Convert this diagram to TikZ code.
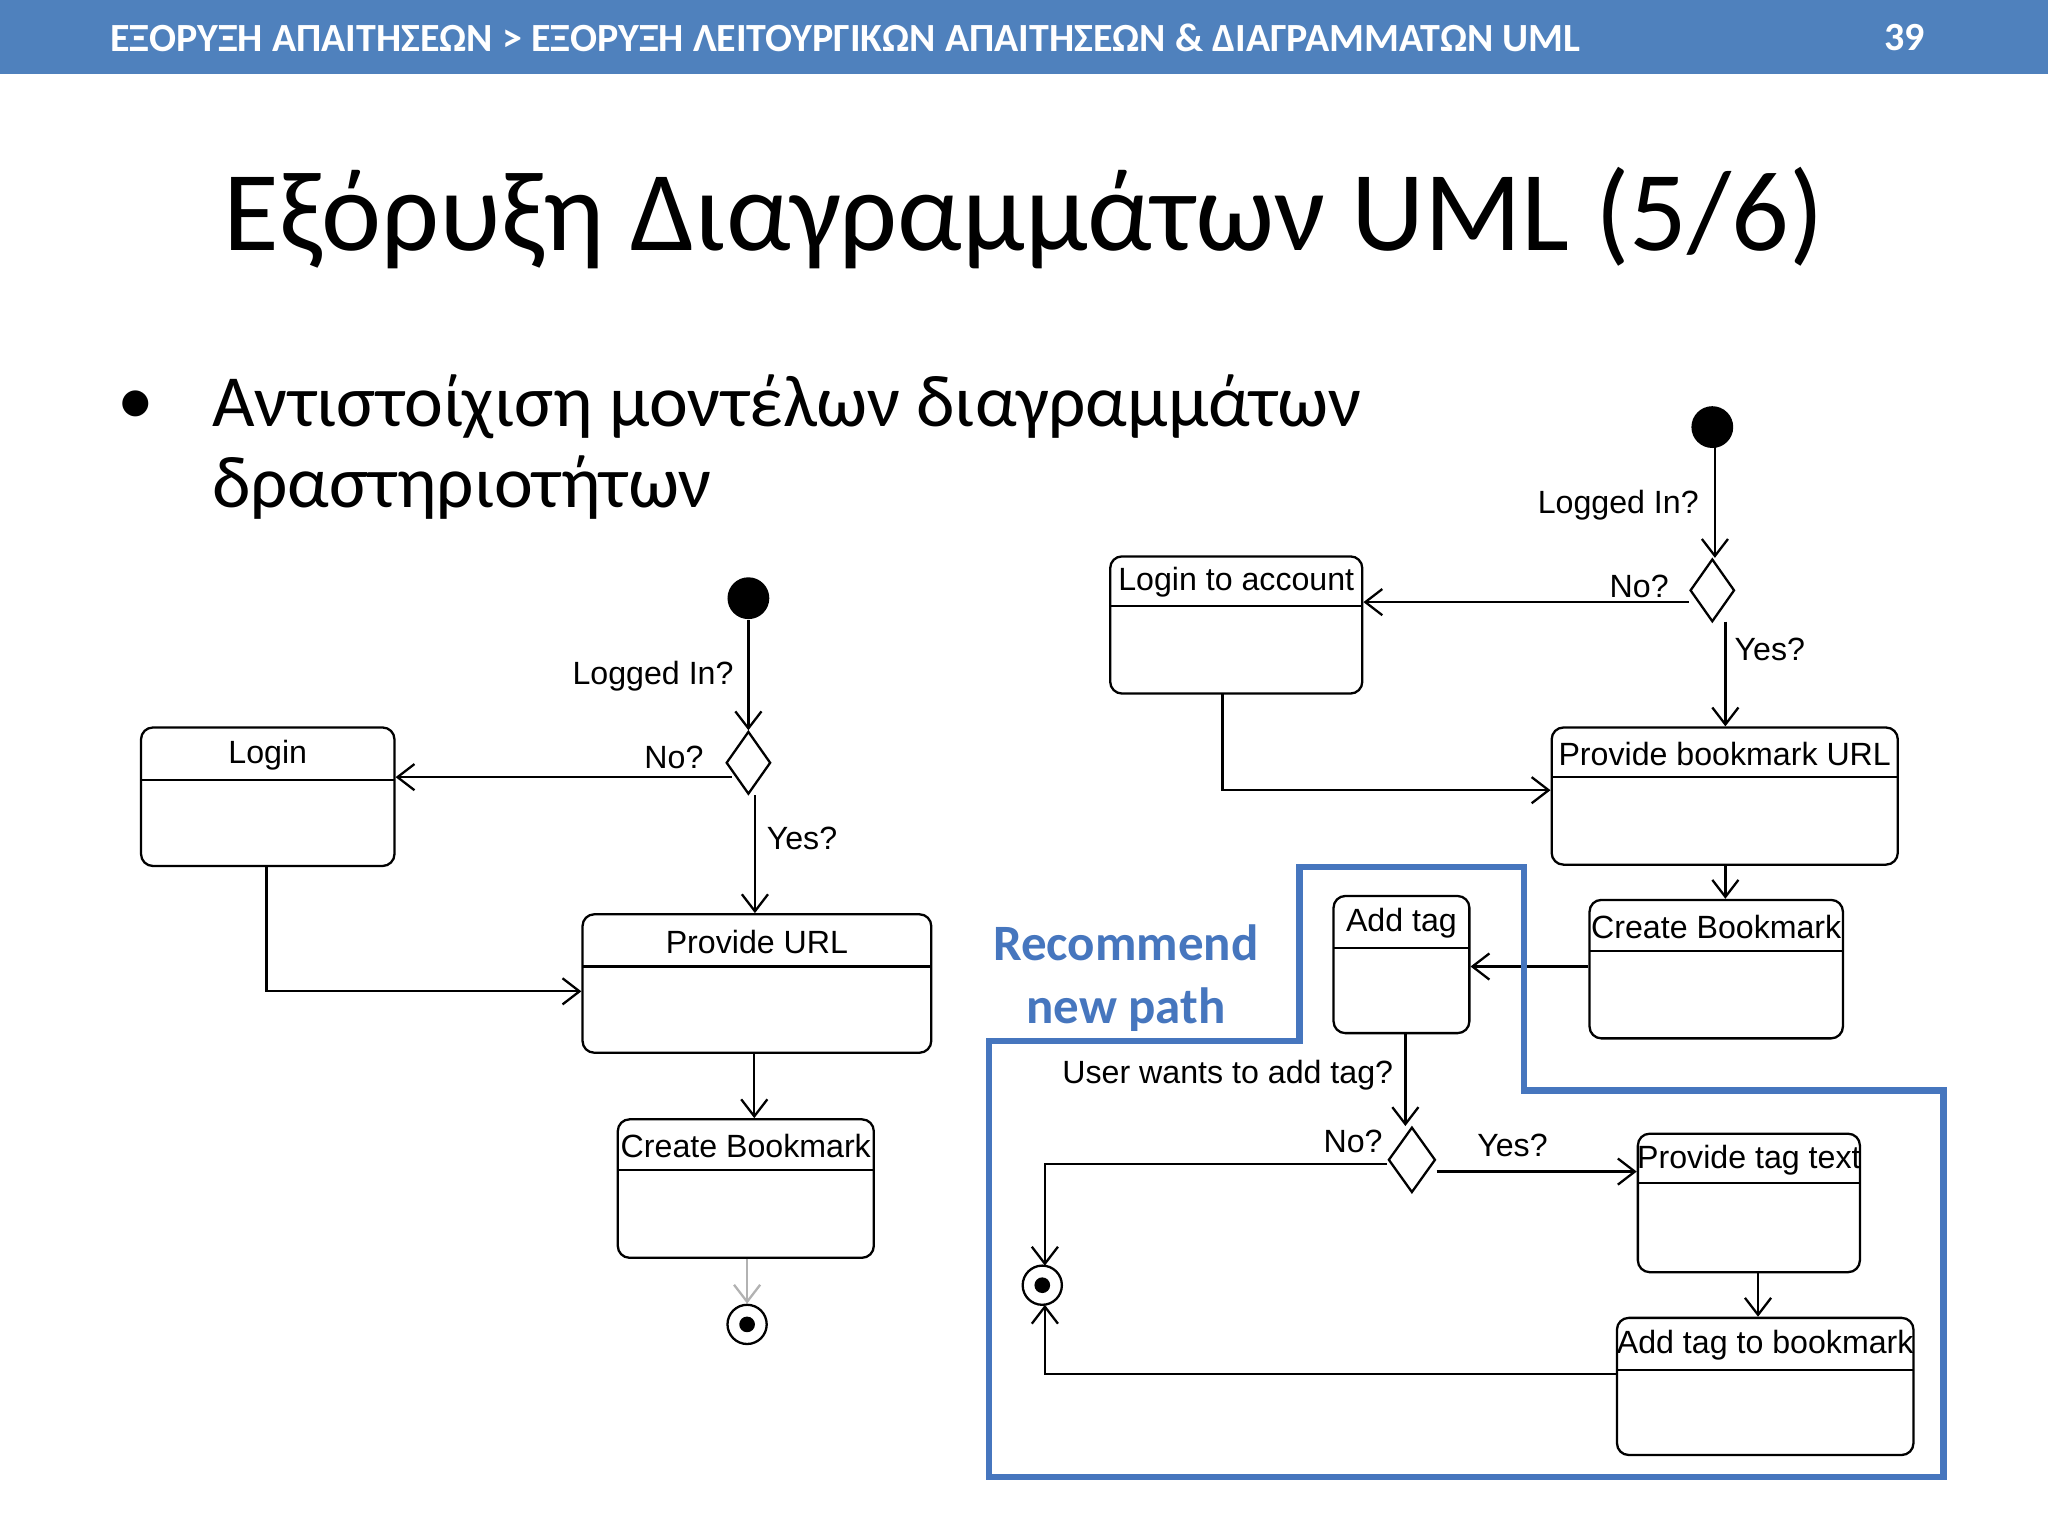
\documentclass[tikz,border=0pt]{standalone}
\usepackage{fontspec}
\setmainfont{Carlito}
\newfontfamily\arialf{Liberation Sans}
\usetikzlibrary{arrows.meta,shapes.geometric,fit}
\definecolor{hdr}{RGB}{79,129,189}
\definecolor{hl}{RGB}{70,118,190}
\begin{document}
\begin{tikzpicture}[x=0.01cm,y=-0.01cm,
  box/.style={draw,rounded corners=0.9mm,inner sep=0pt,line width=0.5pt},
  lbl/.style={font=\arialf\fontsize{7}{8.5}\selectfont,inner sep=0pt},
  arr/.style={-{Straight Barb[length=1.3mm,width=2mm]},line width=0.5pt},
  dia/.style={draw,diamond,inner sep=0pt,minimum width=0.34cm,minimum height=0.48cm,line width=0.5pt},
  startn/.style={circle,fill=black,inner sep=0pt,minimum size=0.32cm}]
\useasboundingbox (0,0) rectangle (1568,1176);
\fill[hdr] (0,0) rectangle (1568,57);
\node[anchor=west,text=white,font=\bfseries\fontsize{8.7}{10}\selectfont] (hd) at (72,29) {ΕΞΟΡΥΞΗ ΑΠΑΙΤΗΣΕΩΝ > ΕΞΟΡΥΞΗ ΛΕΙΤΟΥΡΓΙΚΩΝ ΑΠΑΙΤΗΣΕΩΝ \& ΔΙΑΓΡΑΜΜΑΤΩΝ UML};
\node[text=white,font=\bfseries\fontsize{8.7}{10}\selectfont] (pg) at (1458,29) {39};
\node[font=\fontsize{24.8}{28}\selectfont] (title) at (784,167) {Εξόρυξη Διαγραμμάτων UML (5/6)};
\node[font=\fontsize{16}{18}\selectfont] (bul) at (104,312) {•};
\node[anchor=west,align=left,font=\fontsize{16}{17.6}\selectfont] (btxt) at (150,342) {Αντιστοίχιση μοντέλων διαγραμμάτων\\δραστηριοτήτων};

\newcommand\actbox[7]{\node[box,fit={(#2,#3)(#4,#5)}] (#1) {}; \draw[line width=0.5pt] (#2,#6) -- (#4,#6); \node[lbl] at ({(#2+#4)/2},{(#3+#6)/2+1}) {#7};}

% left diagram
\node[startn] (s1) at (573,458) {};
\node[dia] (d1) at (573,584) {};
\actbox{login}{108}{557}{302}{663}{597}{Login}
\actbox{purl}{446}{700}{713}{806}{740}{Provide URL}
\actbox{cb1}{473}{857}{669}{963}{896}{Create Bookmark}
\node[circle,draw,inner sep=0pt,minimum size=0.3cm,line width=0.5pt] (e1) at (572,1014) {};
\fill (e1.center) circle (6);
\draw[arr] (s1) -- (d1.north);
\node[lbl] at (500,518) {Logged In?};
\draw[arr] (d1.west) ++(5,11) coordinate (d1w) -- (d1w -| login.east);
\node[lbl] at (516,580) {No?};
\draw[arr] (d1.south) ++(5,0) coordinate (y1) -- (y1 |- purl.north);
\node[lbl] at (614,642) {Yes?};
\draw[arr] (204,663) coordinate (l1) -- (l1 |- 0,759) -- (purl.west |- 0,759);
\draw[arr] (purl.south) ++(-2,0) coordinate (p1) -- (p1 |- cb1.north);
\draw[arr,gray!60] (cb1.south) ++(1,0) coordinate (c1) -- (e1.north);

% right diagram
\node[startn] (s2) at (1311,327) {};
\node[dia] (d2) at (1311,452) {};
\actbox{lta}{850}{426}{1043}{531}{464}{Login to account}
\actbox{pbu}{1188}{557}{1453}{662}{595}{Provide bookmark URL}
\actbox{cb2}{1217}{689}{1411}{795}{728}{Create Bookmark}
\actbox{at}{1021}{686}{1125}{791}{726}{Add tag}
\node[dia,minimum width=0.36cm,minimum height=0.5cm] (d3) at (1081,888) {};
\actbox{ptt}{1254}{868}{1424}{974}{906}{Provide tag text}
\actbox{atb}{1238}{1009}{1465}{1114}{1049}{Add tag to bookmark}
\node[circle,draw,inner sep=0pt,minimum size=0.3cm,line width=0.5pt] (e2) at (798,984) {};
\fill (e2.center) circle (6);

\draw[arr] (s2) ++(2,0) coordinate (s2a) -- (s2a |- d2.north);
\node[lbl] at (1239,387) {Logged In?};
\draw[arr] (d2.west) ++(0,9) coordinate (d2w) -- (d2w -| lta.east);
\node[lbl] at (1255,449) {No?};
\draw[arr] (1321,476) coordinate (y2) -- (y2 |- pbu.north);
\node[lbl] at (1355,497) {Yes?};
\draw[arr] (936,531) coordinate (l2) -- (936,605) -- (pbu.west |- 0,605);
\draw[arr] (1321,662) coordinate (p2) -- (p2 |- cb2.north);
\draw[arr] (cb2.west |- 0,740) -- (at.east |- 0,740);
\draw[arr] (1076,791) coordinate (a2) -- (a2 |- d3.north);
\node[lbl] at (940,823) {User wants to add tag?};
\draw[arr] (d3.east |- 0,897) -- (ptt.west |- 0,897);
\node[lbl] at (1158,877) {Yes?};
\draw[arr] (d3.west |- 0,891) -- (800,891) -- (800,969);
\node[lbl] at (1036,874) {No?};
\draw[arr] (1346,974) coordinate (p3) -- (p3 |- atb.north);
\draw[arr] (atb.west |- 0,1052) -- (800,1052) -- (800,999);

% highlight
\draw[hl,line width=1.4pt] (757,1131) -- (1488,1131) -- (1488,835) -- (1167,835) -- (1167,664) -- (995,664) -- (995,797) -- (757,797) -- cycle;
\node[text=hl,font=\bfseries\fontsize{11.1}{13.6}\selectfont,align=center] (rec) at (862,749) {Recommend\\new path};
\end{tikzpicture}
\end{document}
